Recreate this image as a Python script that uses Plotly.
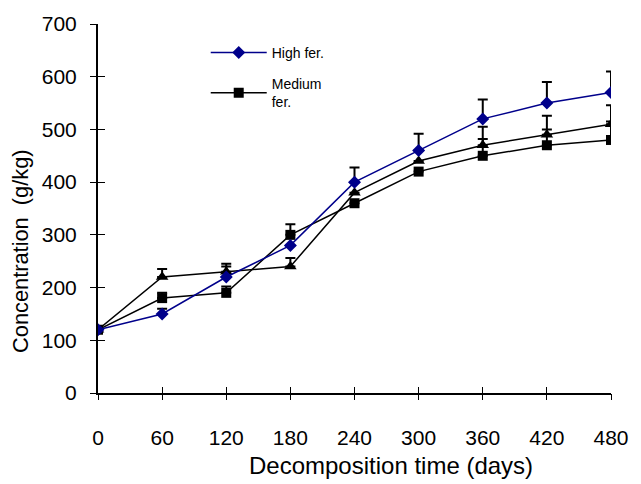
import plotly.graph_objects as go

days = [0, 60, 120, 180, 240, 300, 360, 420, 480]
high = [120, 150, 220, 280, 400, 460, 520, 550, 570]
high_err = [0, 10, 20, 0, 28, 32, 37, 40, 40]
medium = [120, 180, 190, 300, 360, 420, 450, 470, 480]
medium_err = [0, 10, 12, 20, 0, 0, 32, 30, 35]
low = [120, 220, 230, 240, 380, 440, 470, 490, 510]
low_err = [0, 15, 15, 16, 0, 0, 35, 36, 36]

tickvals = [0, 60, 120, 180, 240, 300, 360, 420, 480]
yticks = [0, 100, 200, 300, 400, 500, 600, 700]

font = "Liberation Sans, Arial, sans-serif"

def err(a):
    return dict(type="data", array=a, arrayminus=[0] * len(a), symmetric=False,
                color="black", thickness=2, width=5)

fig = go.Figure()
fig.add_trace(go.Scatter(x=days, y=low, mode="lines+markers", name="Low fer.",
                         showlegend=False, legendrank=3,
                         line=dict(color="black", width=1.5),
                         marker=dict(symbol="triangle-up", size=11, color="black"),
                         error_y=err(low_err)))
fig.add_trace(go.Scatter(x=days, y=medium, mode="lines+markers", name="Medium<br>fer.",
                         legendgroup="b", legendrank=2,
                         line=dict(color="black", width=1.5),
                         marker=dict(symbol="square", size=10, color="black"),
                         error_y=err(medium_err)))
fig.add_trace(go.Scatter(x=days, y=high, mode="lines+markers", name="High fer.",
                         legendgroup="a", legendrank=1,
                         line=dict(color="#00008B", width=1.5),
                         marker=dict(symbol="diamond", size=10, color="#00008B"),
                         error_y=err(high_err)))
# invisible trace for the overlay axes
fig.add_trace(go.Scatter(x=[240], y=[350], xaxis="x2", yaxis="y2", mode="markers",
                         marker=dict(opacity=0), showlegend=False, hoverinfo="skip"))

fig.update_layout(
    width=641, height=484,
    margin=dict(l=98, r=22, t=23, b=91),
    paper_bgcolor="white", plot_bgcolor="white",
    font=dict(family=font, size=21, color="black"),
    showlegend=True,
    legend=dict(x=0.21, y=0.965, xanchor="left", yanchor="top",
                traceorder="grouped", itemwidth=56,
                font=dict(size=14, family=font), bgcolor="rgba(0,0,0,0)",
                tracegroupgap=10),
    xaxis=dict(range=[0, 480], tickvals=tickvals, ticks="inside", ticklen=6,
               tickcolor="black", showline=True, linecolor="black", linewidth=1.5,
               showgrid=False, zeroline=False, showticklabels=False),
    yaxis=dict(range=[0, 700], tickvals=yticks, ticks="inside", ticklen=7,
               tickcolor="black", showline=True, linecolor="black", linewidth=1.5,
               showgrid=False, zeroline=False, showticklabels=False),
    xaxis2=dict(range=[0, 480], tickvals=tickvals, ticks="outside", ticklen=6,
                tickcolor="black", overlaying="x", side="bottom",
                anchor="y2", ticklabelstandoff=20,
                showticklabels=True, showgrid=False, zeroline=False, showline=False),
    yaxis2=dict(range=[0, 700], tickvals=yticks, ticks="outside", ticklen=7,
                tickcolor="black", overlaying="y", side="left",
                anchor="x2", ticklabelstandoff=9,
                showticklabels=True, showgrid=False, zeroline=False, showline=False),
    annotations=[
        dict(text="Decomposition time (days)", xref="paper", yref="paper",
             x=0.572, y=-0.197, xanchor="center", yanchor="middle",
             showarrow=False, font=dict(size=24, family=font)),
        dict(text="Concentration  (g/kg)", xref="paper", yref="paper",
             x=-0.15, y=0.385, xanchor="center", yanchor="middle",
             textangle=-90, showarrow=False, font=dict(size=21.8, family=font)),
    ],
)

fig.write_html("out.html")
